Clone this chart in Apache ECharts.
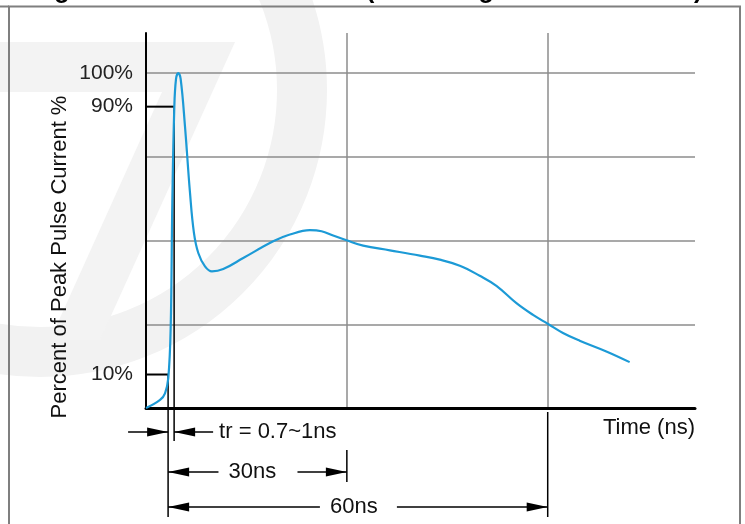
<!DOCTYPE html>
<html><head><meta charset="utf-8">
<script src="https://cdn.jsdelivr.net/npm/echarts@6/dist/echarts.min.js"></script>
<style>html,body{margin:0;padding:0;background:#fff}#c{width:745px;height:524px}</style>
</head><body><div id="c"></div>
<script>
// ---- data ----
const timeNs = [0, 2.1, 2.84, 3.33, 3.69, 3.93, 4.22, 4.48, 4.82, 5.18, 5.82, 6.57, 7.16, 7.81, 8.81, 9.85, 11.54, 14.52, 19.0, 21.49, 24.48, 26.22, 27.95, 29.95, 32.43, 36.42, 40.9, 43.88, 46.87, 49.85, 52.34, 55.33, 57.81, 60.05, 62.28, 64.77, 68.76, 72.24];
const currentPct = [0, 2.4, 4.4, 8.9, 24.3, 61.3, 89.2, 98.2, 100, 98.2, 84.2, 64.3, 52.3, 46.3, 42.3, 40.8, 41.5, 44.8, 49.8, 51.8, 53.1, 52.8, 51.5, 50.1, 48.5, 47.1, 45.5, 44.3, 42.5, 39.5, 36.5, 31.3, 27.8, 25.1, 22.4, 20.1, 16.9, 13.7];
const yTickLabels = [10, 90, 100];
const levelMarks = [10, 90];
const levelTimes = [3.3, 4.2];
const spanNs = [30, 60];
const spanLabels = ['30ns', '60ns'];
const riseLabel = 'tr = 0.7~1ns';
const titleParts = ['Figure 2. ESD Pulse Waveform', '(according to IEC 61000-4-2)'];
const yName = 'Percent of Peak Pulse Current %';
const xName = 'Time (ns)';

const FONT = '"Liberation Sans", Arial, sans-serif';
const chart = echarts.init(document.getElementById('c'));

chart.setOption({
  animation: false,
  backgroundColor: '#fff',
  grid: { left: 146, right: 50, top: 33, bottom: 116 },
  xAxis: {
    type: 'value', min: 0, max: 82, interval: 30,
    axisLine: { show: true, lineStyle: { color: '#000', width: 3 } },
    axisTick: { show: false }, axisLabel: { show: false },
    splitLine: { show: true, showMinLine: false, showMaxLine: false, lineStyle: { color: '#8c8c8c', width: 1.5 } }
  },
  yAxis: [
    {
      type: 'value', min: 0, max: 112, interval: 25,
      axisLine: { show: true, lineStyle: { color: '#000', width: 2 } },
      axisTick: { show: false }, axisLabel: { show: false },
      splitLine: { show: true, showMinLine: false, showMaxLine: false, lineStyle: { color: '#8c8c8c', width: 1.5 } }
    },
    {
      type: 'value', min: 0, max: 112, interval: 10, position: 'left',
      axisLine: { show: false }, axisTick: { show: false }, splitLine: { show: false },
      axisLabel: {
        margin: 13, fontSize: 21, color: '#222', fontFamily: FONT,
        formatter: v => yTickLabels.includes(v) ? v + '%' : ''
      }
    }
  ],
  series: [{
    type: 'line',
    data: timeNs.map((t, i) => [t, currentPct[i]]),
    showSymbol: false, smooth: 0.4,
    lineStyle: { color: '#1c9ad6', width: 2.2 },
    z: 5
  }]
});

const P = (x, y) => chart.convertToPixel({ gridIndex: 0 }, [x, y]);
const [x0, axisY] = P(0, 0);
const x10 = P(levelTimes[0], 0)[0], x90 = P(levelTimes[1], 0)[0];
const y10 = P(0, levelMarks[0])[1], y90 = P(0, levelMarks[1])[1];
const x30 = P(spanNs[0], 0)[0], x60 = P(spanNs[1], 0)[0];
const xEnd = P(82, 0)[0];

function ln(x1, y1, x2, y2, w, c) {
  return { type: 'line', shape: { x1, y1, x2, y2 }, style: { stroke: c || '#000', lineWidth: w || 1.5 } };
}
function head(tip, y, dir) {
  const L = 21, H = 4.5;
  return { type: 'polygon', shape: { points: [[tip, y], [tip - dir * L, y - H], [tip - dir * L, y + H]] }, style: { fill: '#000' } };
}
function txt(s, x, y, align, opts) {
  return Object.assign({ type: 'text', x, y, style: { text: s, fontSize: 22, fontFamily: FONT, fill: '#111', align: align || 'left', verticalAlign: 'middle' } }, opts || {});
}

const g = [];
// watermark
g.push({ type: 'arc', z: -10, shape: { cx: 40, cy: 90, r: 262, startAngle: 0, endAngle: Math.PI * 2 }, style: { stroke: '#f2f2f2', lineWidth: 50, fill: null } });
g.push({ type: 'polygon', z: -10, shape: { points: [[0, 42], [235, 42], [100, 340], [50, 340], [162, 92], [0, 92]] }, style: { fill: '#f3f3f3' } });
// frame
g.push({ type: 'rect', shape: { x: 9, y: 6.5, width: 731, height: 540 }, style: { stroke: '#7f7f7f', lineWidth: 2, fill: null } });
g.push(ln(0, 6.5, 9, 6.5, 2, '#7f7f7f'));
// title (cropped at the top: only descenders show)
g.push({ type: 'text', x: 32, y: 3.5, style: { text: titleParts[0], fontSize: 25, fontWeight: 'bold', fontFamily: FONT, fill: '#000', verticalAlign: 'bottom' } });
g.push({ type: 'text', x: 366, y: 3.5, style: { text: titleParts[1], fontSize: 25, fontWeight: 'bold', fontFamily: FONT, fill: '#000', verticalAlign: 'bottom' } });
// axis names
g.push(txt(yName, 60, 257, 'center', { rotation: Math.PI / 2 }));
g.push(txt(xName, xEnd, axisY + 20, 'right'));
// level lines
g.push(ln(x0, y90, x90, y90, 2));
g.push(ln(x0, y10, x10, y10, 2));
g.push(ln(x90, y90, x90, axisY + 33, 1.5));
g.push(ln(x10, y10, x10, axisY + 109, 1.5));
// rise time row
const r1 = axisY + 24;
g.push(ln(x10 - 40, r1, x10, r1)); g.push(head(x10, r1, 1));
g.push(ln(x90, r1, x90 + 39, r1)); g.push(head(x90, r1, -1));
g.push(txt(riseLabel, x90 + 45, r1, 'left'));
// 30ns row
const r2 = axisY + 64, m2 = (x10 + x30) / 2 - 5;
g.push(head(x10, r2, -1)); g.push(ln(x10, r2, m2 - 34, r2));
g.push(txt(spanLabels[0], m2, r2, 'center'));
g.push(ln(m2 + 45, r2, x30, r2)); g.push(head(x30, r2, 1));
g.push(ln(x30, axisY + 42, x30, axisY + 74));
// 60ns row
const r3 = axisY + 99, m3 = (x10 + x60) / 2 - 4;
g.push(head(x10, r3, -1)); g.push(ln(x10, r3, m3 - 34, r3));
g.push(txt(spanLabels[1], m3, r3, 'center'));
g.push(ln(m3 + 43, r3, x60, r3)); g.push(head(x60, r3, 1));
g.push(ln(x60, axisY + 4, x60, axisY + 109));

chart.setOption({ graphic: { elements: g } });
</script>
</body></html>
